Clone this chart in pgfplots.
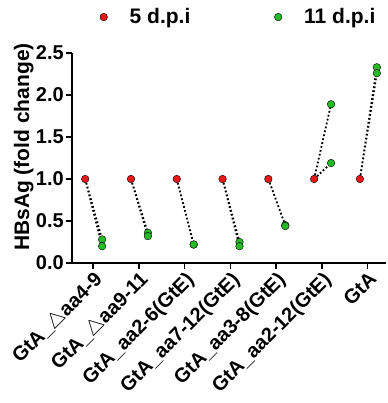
\documentclass[border=0pt]{standalone}
\usepackage{fontspec}
\setmainfont{Liberation Sans}
\usepackage{pgfplots}
\pgfplotsset{compat=1.18}
\definecolor{myred}{RGB}{232,24,24}
\definecolor{mygreen}{RGB}{38,186,38}
\newcommand{\tickf}{\bfseries\fontsize{20}{23}\selectfont}
\newcommand{\bigf}{\bfseries\fontsize{21}{24}\selectfont}
\begin{document}
\begin{tikzpicture}
\useasboundingbox (0,0) rectangle (387pt,403pt);
\begin{axis}[
  at={(72pt,140pt)}, anchor=south west,
  scale only axis, width=314pt, height=210pt,
  xmin=-0.458, xmax=6.40, ymin=0, ymax=2.5,
  axis lines=left, axis line style={-, line width=1.6pt, black},
  xtick={0,1,2,3,4,5,6},
  xticklabels={GtA\_$\triangle$aa4-9, GtA\_$\triangle$aa9-11, GtA\_aa2-6(GtE), GtA\_aa7-12(GtE), GtA\_aa3-8(GtE), GtA\_aa2-12(GtE), GtA},
  ytick={0,0.5,1,1.5,2,2.5},
  tick style={line width=1.6pt, black},
  major tick length=6pt,
  tick align=outside,
  tick label style={font=\tickf},
  label style={font=\bigf},
  x tick label style={rotate=45, anchor=north east, inner sep=1pt},
  yticklabel style={/pgf/number format/fixed, /pgf/number format/precision=1, /pgf/number format/fixed zerofill, inner sep=2pt},
  /pgf/number format/assume math mode=true,
  ylabel={HBsAg (fold change)},
  ylabel style={yshift=-3pt, xshift=11pt},
  unbounded coords=jump,
  clip=false,
  legend columns=2,
  legend image code/.code={\path[draw=none,fill=none] (-3.7pt,0pt) -- (24pt,0pt); \path[#1,draw=none] plot[only marks, mark options={draw=none}] coordinates {(0pt,0pt)};},
  legend style={at={(axis description cs:0.089,1.171)}, anchor=west, inner sep=0pt, outer sep=0pt, draw=none, fill=none, font=\bigf,
    /tikz/every even column/.append style={column sep=82pt}},
]
\addplot[black, line width=1.8pt, dash pattern=on 1.8pt off 2.2pt, forget plot] coordinates {
(-0.17,1.0) (0.2,0.28) (0,nan)
(-0.17,1.0) (0.2,0.20) (0,nan)
(0.83,1.0) (1.2,0.36) (0,nan)
(0.83,1.0) (1.2,0.32) (0,nan)
(1.83,1.0) (2.2,0.22) (0,nan)
(2.83,1.0) (3.2,0.25) (0,nan)
(2.83,1.0) (3.2,0.20) (0,nan)
(3.83,1.0) (4.2,0.45) (0,nan)
(4.83,1.0) (5.2,1.89) (0,nan)
(4.83,1.0) (5.2,1.19) (0,nan)
(5.83,1.0) (6.2,2.33) (0,nan)
(5.83,1.0) (6.2,2.26)
};
\addplot[only marks, mark=*, mark size=3.8pt, draw=none, fill=myred, mark options={draw=none, fill=myred}] coordinates {
(-0.17,1.0) (0.83,1.0) (1.83,1.0) (2.83,1.0) (3.83,1.0) (4.83,1.0) (5.83,1.0)
};
\addlegendentry{5 d.p.i}
\addplot[only marks, mark=*, mark size=3.8pt, draw=none, fill=mygreen, mark options={draw=none, fill=mygreen}] coordinates {
(0.2,0.28) (0.2,0.20) (1.2,0.36) (1.2,0.32) (2.2,0.22) (2.2,0.22) (3.2,0.25) (3.2,0.20) (4.2,0.45) (4.2,0.44) (5.2,1.89) (5.2,1.19) (6.2,2.33) (6.2,2.26)
};
\addlegendentry{11 d.p.i}
\end{axis}
\end{tikzpicture}
\end{document}
